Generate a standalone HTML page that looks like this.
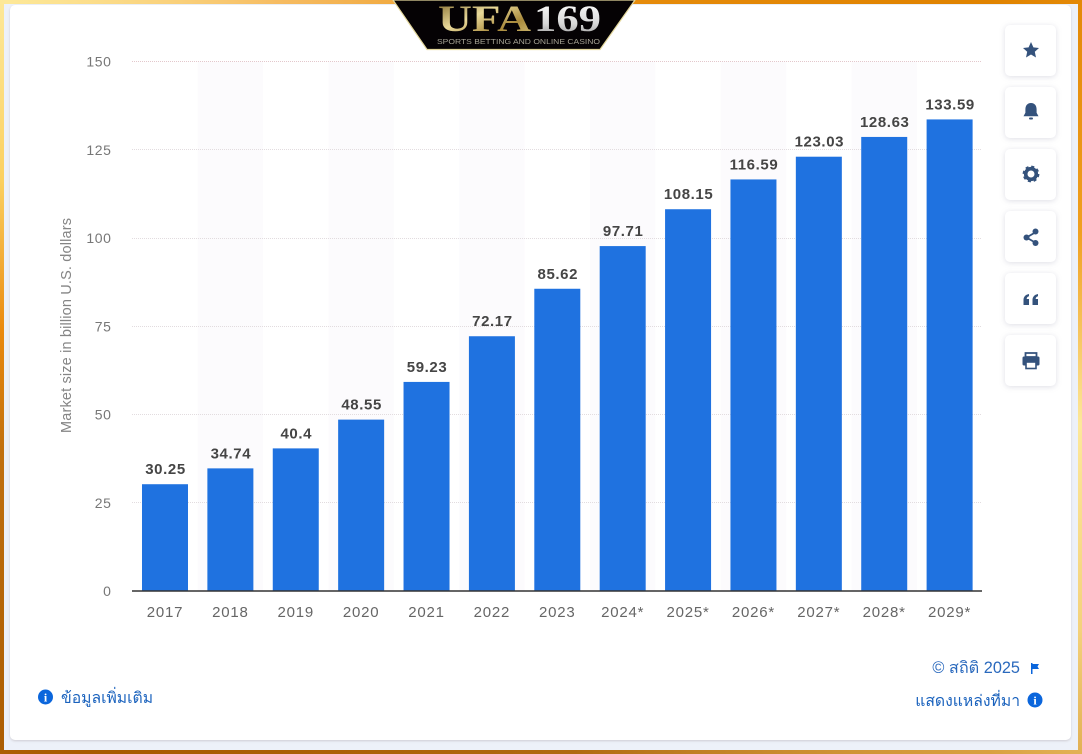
<!DOCTYPE html>
<html lang="en">
<head>
<meta charset="utf-8">
<title>Market size chart</title>
<style>
html,body{margin:0;padding:0;width:1082px;height:754px;overflow:hidden;background:#fff}
#frame{position:absolute;left:0;top:0;width:1082px;height:754px;background:conic-gradient(from 0deg at 50% 50%,#e88f10 0deg,#e08300 50deg,#f0a020 75deg,#fde89a 95deg,#f4d27c 115deg,#d9a040 130deg,#b06a10 175deg,#a85a00 230deg,#c07010 262deg,#ea8a10 275deg,#fbd060 290deg,#fde898 305deg,#f6bc62 325deg,#e88f10 360deg)}
#inner{position:absolute;left:4px;top:4px;width:1074px;height:746px;background:#edf1f9}
#card{position:absolute;left:10px;top:5px;width:1061px;height:735px;background:#fff;border-radius:5px;box-shadow:0 1px 2px rgba(120,100,100,.25)}
svg{position:absolute;left:0;top:0}
text{font-family:"Liberation Sans","DejaVu Sans",sans-serif}
</style>
</head>
<body>
<div id="frame"></div>
<div id="inner"></div>
<div id="card"></div>
<svg id="chart" width="1082" height="754" viewBox="0 0 1082 754" xmlns="http://www.w3.org/2000/svg">
  <defs>
    <linearGradient id="goldText" x1="0" y1="0" x2="1" y2="1">
      <stop offset="0" stop-color="#7c6428"/><stop offset=".4" stop-color="#e9d99a"/><stop offset=".7" stop-color="#a98a3c"/><stop offset="1" stop-color="#d9c680"/>
    </linearGradient>
    <linearGradient id="silverText" x1="0" y1="0" x2="0" y2="1">
      <stop offset="0" stop-color="#ffffff"/><stop offset=".6" stop-color="#d8d8d8"/><stop offset="1" stop-color="#8f8f8f"/>
    </linearGradient>
  </defs>
  <g id="stripes"></g>
  <g id="grid"></g>
  <g id="bars"></g>
  <g id="valueLabels"></g>
  <g id="xLabels"></g>
  <g id="yLabels"></g>
  <line x1="132" y1="591" x2="982" y2="591" stroke="#333" stroke-width="1.5"/>
  <text transform="translate(71,325.500) rotate(-90)" text-anchor="middle" font-size="14.500" textLength="215" lengthAdjust="spacing" fill="#858585">Market size in billion U.S. dollars</text>

  <g>
    <polygon points="393,0 635,0 600,49.500 427,49.500" fill="#050204" stroke="#e3d79c" stroke-width="1.200"/>
    <text x="438" y="31" font-size="37" font-weight="bold" style="font-family:'Liberation Serif',serif" textLength="93" lengthAdjust="spacingAndGlyphs" fill="url(#goldText)">UFA</text>
    <text x="534" y="31" font-size="37" font-weight="bold" style="font-family:'Liberation Serif',serif" textLength="67" lengthAdjust="spacingAndGlyphs" fill="url(#silverText)">169</text>
    <text x="437" y="44" font-size="7.500" textLength="163" lengthAdjust="spacingAndGlyphs" fill="#a5a294">SPORTS BETTING AND ONLINE CASINO</text>
  </g>

  <g>
    <rect x="1005" y="25" width="51" height="51" rx="5" fill="#fff" style="filter:drop-shadow(0 1px 3px rgba(70,70,110,.18))"/>
    <polygon points="1031,42 1033.400,47.400 1039,48 1034.800,51.800 1036,57.500 1031,54.500 1026,57.500 1027.200,51.800 1023,48 1028.600,47.400" fill="#34527c"/>
  </g>
  <g>
    <rect x="1005" y="87" width="51" height="51" rx="5" fill="#fff" style="filter:drop-shadow(0 1px 3px rgba(70,70,110,.18))"/>
    <path d="M1031 103c3.800 0 5.600 2.800 5.600 6.400v3.400l1.900 3.400h-15l1.900-3.400v-3.400c0-3.600 1.800-6.400 5.600-6.400z" fill="#34527c"/>
    <rect x="1029" y="117.500" width="4" height="2" rx="1" fill="#34527c"/>
  </g>
  <g>
    <rect x="1005" y="149" width="51" height="51" rx="5" fill="#fff" style="filter:drop-shadow(0 1px 3px rgba(70,70,110,.18))"/>
    <circle cx="1031" cy="174" r="5.300" fill="none" stroke="#34527c" stroke-width="3.600"/>
    <circle cx="1031" cy="174" r="7.300" fill="none" stroke="#34527c" stroke-width="2.200" stroke-dasharray="3 2.730"/>
  </g>
  <g>
    <rect x="1005" y="211" width="51" height="51" rx="5" fill="#fff" style="filter:drop-shadow(0 1px 3px rgba(70,70,110,.18))"/>
    <path d="M1036 232l-9.500 5.500 9.500 5.500" fill="none" stroke="#34527c" stroke-width="1.800"/>
    <circle cx="1035.500" cy="231.500" r="3" fill="#34527c"/>
    <circle cx="1026.500" cy="237.500" r="3" fill="#34527c"/>
    <circle cx="1035.500" cy="243" r="3" fill="#34527c"/>
  </g>
  <g>
    <rect x="1005" y="273" width="51" height="51" rx="5" fill="#fff" style="filter:drop-shadow(0 1px 3px rgba(70,70,110,.18))"/>
    <path d="M1023.500 305v-5c0-3 1.800-5.300 5.500-6v2.300c-1.500.4-2.300 1.300-2.300 2.700h2.300v6zM1032.500 305v-5c0-3 1.800-5.300 5.500-6v2.300c-1.500.4-2.300 1.300-2.300 2.700h2.300v6z" fill="#34527c"/>
  </g>
  <g>
    <rect x="1005" y="335" width="51" height="51" rx="5" fill="#fff" style="filter:drop-shadow(0 1px 3px rgba(70,70,110,.18))"/>
    <path d="M1025.500 353h11v4h-11z" fill="none" stroke="#34527c" stroke-width="1.800"/>
    <rect x="1022.500" y="356.500" width="17" height="9" rx="1.500" fill="#34527c"/>
    <rect x="1026" y="362" width="10" height="6.500" fill="#fff" stroke="#34527c" stroke-width="1.600"/>
  </g>

  <g>
    <circle cx="45.500" cy="697" r="7.500" fill="#0b66dc"/>
    <text x="45.500" y="701.500" text-anchor="middle" font-size="12" font-weight="bold" fill="#fff" style="font-family:'Liberation Serif',serif">i</text>
    <text x="61" y="703" font-size="15.700" fill="#1a62bd">ข้อมูลเพิ่มเติม</text>
  </g>
  <g>
    <text x="1020" y="673" text-anchor="end" font-size="16.300" fill="#2a69bd">© สถิติ 2025</text>
    <path d="M1031 663h1.500v1h6.500l-1.500 2.500 1.500 2.500h-6.500v5h-1.500z" fill="#0b66dc"/>
  </g>
  <g>
    <text x="1020" y="706" text-anchor="end" font-size="15.700" fill="#1a62bd">แสดงแหล่งที่มา</text>
    <circle cx="1035" cy="700" r="7.500" fill="#0b66dc"/>
    <text x="1035" y="704.500" text-anchor="middle" font-size="12" font-weight="bold" fill="#fff" style="font-family:'Liberation Serif',serif">i</text>
  </g>
</svg>
<script>
const categories = ['2017','2018','2019','2020','2021','2022','2023','2024*','2025*','2026*','2027*','2028*','2029*'];
const marketSize = [30.25,34.74,40.4,48.55,59.23,72.17,85.62,97.71,108.15,116.59,123.03,128.63,133.59];
const valueLabels = ['30.25','34.74','40.4','48.55','59.23','72.17','85.62','97.71','108.15','116.59','123.03','128.63','133.59'];
const yTicks = [0,25,50,75,100,125,150];

const NS = 'http://www.w3.org/2000/svg';
const plotLeft = 132.3, plotRight = 982.3, plotTop = 61.5, plotBottom = 591, yMax = 150;
const bandStep = (plotRight - plotLeft) / categories.length;
const barWidth = 46;
function yScale(v){ return plotBottom - (v / yMax) * (plotBottom - plotTop); }
function xScale(i){ return plotLeft + bandStep * (i + 0.5); }
function make(tag, attrs){
  const el = document.createElementNS(NS, tag);
  for (const k in attrs) el.setAttribute(k, attrs[k]);
  return el;
}
const stripes = document.getElementById('stripes');
const grid = document.getElementById('grid');
const bars = document.getElementById('bars');
const vals = document.getElementById('valueLabels');
const xl = document.getElementById('xLabels');
const yl = document.getElementById('yLabels');

categories.forEach(function(c, i){
  if (i % 2 === 1) {
    const s = make('rect', {x: xScale(i) - bandStep / 2, y: plotTop, width: bandStep, height: plotBottom - plotTop, fill: '#fcfbfd'});
    
    
    stripes.appendChild(s);
  }
});

yTicks.forEach(function(t){
  if (t > 0) {
    const g = make('line', {x1: 132, x2: 982, y1: Math.floor(yScale(t)) + 0.5, y2: Math.floor(yScale(t)) + 0.5, stroke: t === yMax ? '#e3c8cc' : '#e2dcdf', 'stroke-width': 1, 'stroke-dasharray': '1 1'});
    
    
    grid.appendChild(g);
  }
  const l = make('text', {x: 111.5, y: yScale(t) + 5, 'text-anchor': 'end', 'font-size': 14, fill: '#777', 'letter-spacing': '.6'});
  
  
  l.textContent = t;
  yl.appendChild(l);
});

marketSize.forEach(function(v, i){
  const r = make('rect', {x: xScale(i) - barWidth / 2, y: yScale(v), width: barWidth, height: plotBottom - yScale(v), fill: '#1f72e0'});
  
  
  bars.appendChild(r);
  const t = make('text', {x: xScale(i) + 0.5, y: yScale(v) - 10, 'text-anchor': 'middle', 'font-size': 15, 'font-weight': 'bold', fill: '#454545', 'letter-spacing': '.6'});
  
  
  t.textContent = valueLabels[i];
  vals.appendChild(t);
  const x = make('text', {x: xScale(i), y: 617, 'text-anchor': 'middle', 'font-size': 15, fill: '#666', 'letter-spacing': '.8'});
  
  
  x.textContent = categories[i];
  xl.appendChild(x);
});
</script>
</body>
</html>
